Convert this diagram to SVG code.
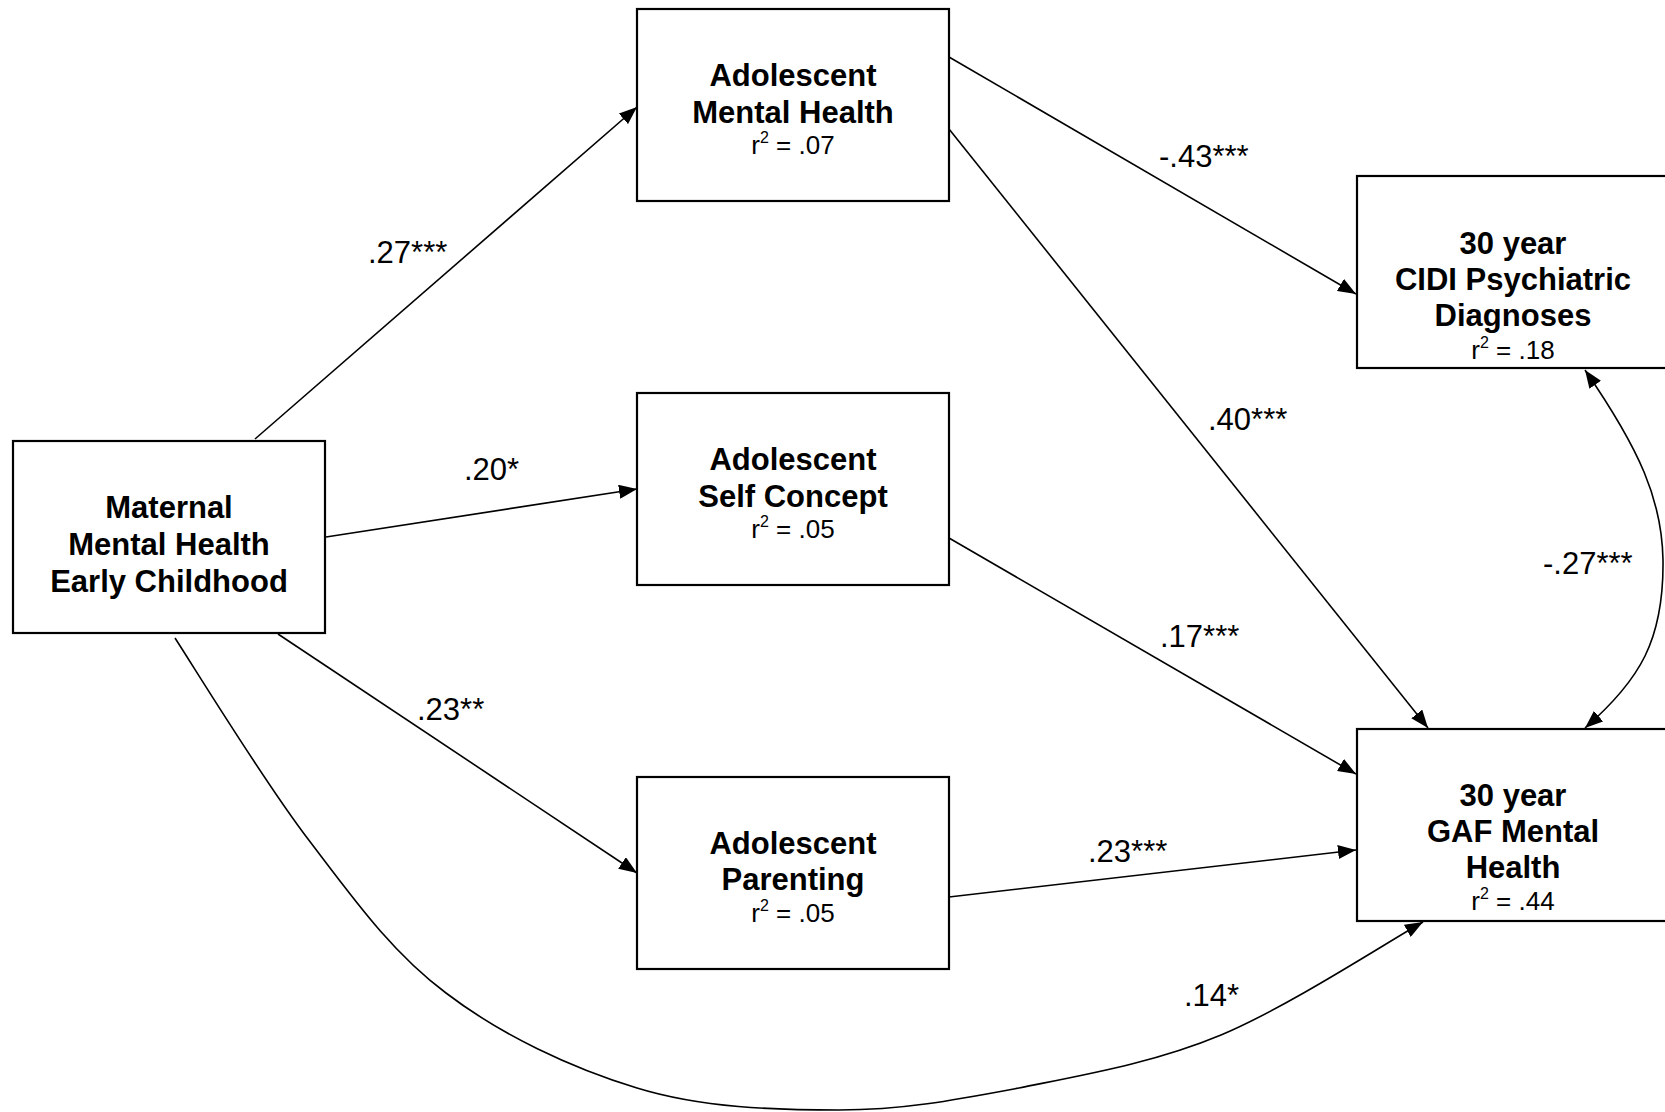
<svg xmlns="http://www.w3.org/2000/svg" width="1665" height="1112" viewBox="0 0 1665 1112">
<defs>
<style>
.box{fill:#fff;stroke:#000;stroke-width:2.2}
.t{font-family:"Liberation Sans",Arial,Helvetica,sans-serif;font-weight:bold;font-size:31px;text-anchor:middle;fill:#000}
.r{font-family:"Liberation Sans",Arial,Helvetica,sans-serif;font-size:26px;text-anchor:middle;fill:#000}
.lb{font-family:"Liberation Sans",Arial,Helvetica,sans-serif;font-size:31px;fill:#000}
.c{fill:none;stroke:#000;stroke-width:1.6}
</style>
<marker id="ah" viewBox="0 0 18 14" refX="18" refY="7" markerWidth="18" markerHeight="14" markerUnits="userSpaceOnUse" orient="auto-start-reverse">
<path d="M0,0 L18,7 L0,14 z" fill="#000"/>
</marker>
</defs>
<rect width="1665" height="1112" fill="#fff"/>
<g id="connectors">
<line class="c" x1="255" y1="439" x2="637" y2="107" marker-end="url(#ah)"/>
<line class="c" x1="326" y1="537" x2="637" y2="489" marker-end="url(#ah)"/>
<line class="c" x1="278" y1="634" x2="637" y2="873" marker-end="url(#ah)"/>
<path class="c" d="M175,638 C197,672 263,780 308,839 C353,898 391,952 446,993 C501,1035 571,1068 637,1088 C702,1108 775,1110 839,1110 C903,1110 955,1100 1019,1088 C1083,1075 1154,1063 1221,1035 C1288,1007 1389,941 1423,922" marker-end="url(#ah)"/>
<line class="c" x1="949" y1="57" x2="1356" y2="294" marker-end="url(#ah)"/>
<line class="c" x1="949" y1="129" x2="1428" y2="728" marker-end="url(#ah)"/>
<line class="c" x1="949" y1="538" x2="1356" y2="774" marker-end="url(#ah)"/>
<line class="c" x1="949" y1="897" x2="1356" y2="850" marker-end="url(#ah)"/>
<path class="c" d="M1585,370 C1640,450 1662,500 1663,560 C1664,640 1640,680 1585,728" marker-start="url(#ah)" marker-end="url(#ah)"/>
</g>
<g id="labels">
<text class="lb" x="368" y="263">.27***</text>
<text class="lb" x="464" y="480">.20*</text>
<text class="lb" x="417" y="720">.23**</text>
<text class="lb" x="1159" y="167">-.43***</text>
<text class="lb" x="1208" y="430">.40***</text>
<text class="lb" x="1160" y="647">.17***</text>
<text class="lb" x="1088" y="862">.23***</text>
<text class="lb" x="1184" y="1006">.14*</text>
<text class="lb" x="1543" y="574">-.27***</text>
</g>
<g id="maternal">
<rect class="box" x="13" y="441" width="312" height="192"/>
<text class="t" x="169" y="518">Maternal</text>
<text class="t" x="169" y="555">Mental Health</text>
<text class="t" x="169" y="592">Early Childhood</text>
</g>
<g id="adol-mental">
<rect class="box" x="637" y="9" width="312" height="192"/>
<text class="t" x="793" y="86">Adolescent</text>
<text class="t" x="793" y="123">Mental Health</text>
<text class="r" x="793" y="154">r<tspan font-size="16" dy="-11">2</tspan><tspan dy="11"> = .07</tspan></text>
</g>
<g id="adol-self">
<rect class="box" x="637" y="393" width="312" height="192"/>
<text class="t" x="793" y="470">Adolescent</text>
<text class="t" x="793" y="507">Self Concept</text>
<text class="r" x="793" y="538">r<tspan font-size="16" dy="-11">2</tspan><tspan dy="11"> = .05</tspan></text>
</g>
<g id="adol-parenting">
<rect class="box" x="637" y="777" width="312" height="192"/>
<text class="t" x="793" y="854">Adolescent</text>
<text class="t" x="793" y="890">Parenting</text>
<text class="r" x="793" y="922">r<tspan font-size="16" dy="-11">2</tspan><tspan dy="11"> = .05</tspan></text>
</g>
<g id="cidi">
<rect class="box" x="1357" y="176" width="312" height="192"/>
<text class="t" x="1513" y="254">30 year</text>
<text class="t" x="1513" y="290">CIDI Psychiatric</text>
<text class="t" x="1513" y="326">Diagnoses</text>
<text class="r" x="1513" y="359">r<tspan font-size="16" dy="-11">2</tspan><tspan dy="11"> = .18</tspan></text>
</g>
<g id="gaf">
<rect class="box" x="1357" y="729" width="312" height="192"/>
<text class="t" x="1513" y="806">30 year</text>
<text class="t" x="1513" y="842">GAF Mental</text>
<text class="t" x="1513" y="878">Health</text>
<text class="r" x="1513" y="910">r<tspan font-size="16" dy="-11">2</tspan><tspan dy="11"> = .44</tspan></text>
</g>
</svg>
